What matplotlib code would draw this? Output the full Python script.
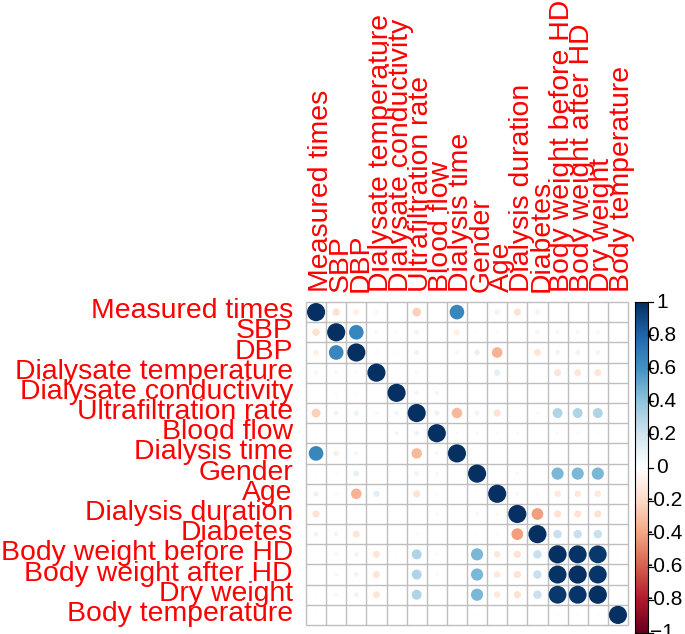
import matplotlib
matplotlib.use("Agg")
import matplotlib.pyplot as plt
import numpy as np
from matplotlib.colors import LinearSegmentedColormap
from matplotlib.patches import Circle
from matplotlib.lines import Line2D

variables = ["Measured times", "SBP", "DBP", "Dialysate temperature",
             "Dialysate conductivity", "Ultrafiltration rate", "Blood flow",
             "Dialysis time", "Gender", "Age", "Dialysis duration", "Diabetes",
             "Body weight before HD", "Body weight after HD", "Dry weight",
             "Body temperature"]

corr = [
    [1.00, -0.17, -0.10, -0.06, -0.01, -0.24, -0.02, 0.65, -0.02, 0.08, -0.16, 0.07, -0.01, 0.01, -0.02, -0.02],
    [-0.17, 1.00, 0.65, 0.04, -0.04, 0.07, -0.01, -0.10, 0.02, -0.04, 0.01, 0.06, 0.05, 0.05, 0.05, 0.01],
    [-0.10, 0.65, 1.00, -0.04, -0.03, 0.08, -0.01, -0.06, 0.10, -0.34, 0.01, -0.15, 0.07, 0.07, 0.07, 0.01],
    [-0.06, 0.04, -0.04, 1.00, -0.02, -0.05, 0.00, 0.01, 0.01, 0.12, 0.01, -0.01, -0.15, -0.15, -0.15, -0.01],
    [-0.01, -0.04, -0.03, -0.02, 1.00, 0.06, 0.06, -0.01, 0.01, 0.01, 0.01, 0.01, 0.01, 0.01, 0.01, 0.01],
    [-0.24, 0.07, 0.08, -0.05, 0.06, 1.00, 0.08, -0.33, 0.07, -0.16, 0.01, 0.03, 0.30, 0.30, 0.30, 0.01],
    [-0.02, -0.01, -0.01, 0.00, 0.06, 0.08, 1.00, 0.04, 0.04, -0.04, 0.03, -0.02, 0.03, 0.03, 0.02, 0.01],
    [0.65, -0.10, -0.06, 0.01, -0.01, -0.33, 0.04, 1.00, 0.01, 0.01, -0.02, 0.01, 0.01, 0.01, 0.01, 0.01],
    [-0.02, 0.02, 0.10, 0.01, 0.01, 0.07, 0.04, 0.01, 1.00, -0.02, -0.05, 0.02, 0.45, 0.45, 0.45, 0.02],
    [0.08, -0.04, -0.34, 0.12, 0.01, -0.16, -0.04, 0.01, -0.02, 1.00, -0.05, 0.03, -0.13, -0.13, -0.13, 0.01],
    [-0.16, 0.01, 0.01, 0.01, 0.01, 0.01, 0.03, -0.02, -0.05, -0.05, 1.00, -0.42, -0.16, -0.16, -0.16, 0.01],
    [0.07, 0.06, -0.15, -0.01, 0.01, 0.03, -0.02, 0.01, 0.02, 0.03, -0.42, 1.00, 0.22, 0.22, 0.22, 0.01],
    [-0.01, 0.05, 0.07, -0.15, 0.01, 0.30, 0.03, 0.01, 0.45, -0.13, -0.16, 0.22, 1.00, 0.98, 0.96, 0.02],
    [0.01, 0.05, 0.07, -0.15, 0.01, 0.30, 0.03, 0.01, 0.45, -0.13, -0.16, 0.22, 0.98, 1.00, 0.97, 0.02],
    [-0.02, 0.05, 0.07, -0.15, 0.01, 0.30, 0.02, 0.01, 0.45, -0.13, -0.16, 0.22, 0.96, 0.97, 1.00, 0.02],
    [-0.02, 0.01, 0.01, -0.01, 0.01, 0.01, 0.01, 0.01, 0.02, 0.01, 0.01, 0.01, 0.02, 0.02, 0.02, 1.00],
]

cbar_ticks = [-1.0, -0.8, -0.6, -0.4, -0.2, 0.0, 0.2, 0.4, 0.6, 0.8, 1.0]
cbar_labels = ["\u22121", "\u22120.8", "\u22120.6", "\u22120.4", "\u22120.2", "0",
               "0.2", "0.4", "0.6", "0.8", "1"]

palette = ["#67001F", "#B2182B", "#D6604D", "#F4A582", "#FDDBC7", "#FFFFFF",
           "#D1E5F0", "#92C5DE", "#4393C3", "#2166AC", "#053061"]
cmap = LinearSegmentedColormap.from_list("corrRdBu", palette, N=200)

plt.rcParams['font.family'] = ['Liberation Sans', 'DejaVu Sans']

W, H = 685, 634
fig = plt.figure(figsize=(W / 100, H / 100), dpi=100)

# main grid axes (pixels: x 306-628, y 302-625)
gx0, gx1, gy0, gy1 = 306, 628, 302, 625
ax = fig.add_axes([gx0 / W, 1 - gy1 / H, (gx1 - gx0) / W, (gy1 - gy0) / H])
n = len(variables)
ax.set_xlim(0, n)
ax.set_ylim(n, 0)
ax.axis('off')

M = np.array(corr)
for i in range(n):
    for j in range(n):
        r = M[i, j]
        rad = 0.9 * np.sqrt(abs(r)) / 2
        if rad > 0:
            ax.add_patch(Circle((j + 0.5, i + 0.5), rad, facecolor=cmap((r + 1) / 2),
                                edgecolor='none', zorder=2))

grid_col = "#BEBEBE"
for k in range(n + 1):
    ax.plot([k, k], [0, n], color=grid_col, lw=1.0, zorder=1, clip_on=False,
            solid_capstyle='butt')
    ax.plot([0, n], [k, k], color=grid_col, lw=1.0, zorder=1, clip_on=False,
            solid_capstyle='butt')

fs = 20.4
for i, name in enumerate(variables):
    ax.text(-0.65, i + 0.8, name, color='red', fontsize=fs, ha='right',
            va='baseline', rotation_mode='anchor', clip_on=False)
    ax.text(i + 1.07, -0.5, name, color='red', fontsize=fs, ha='left',
            va='baseline', rotation=90, rotation_mode='anchor', clip_on=False)

# colour legend (pixels: x 635-648.3, y 302-633)
cx0, cx1, cy0, cy1 = 635, 648.3, 302, 633
cax = fig.add_axes([cx0 / W, 1 - cy1 / H, (cx1 - cx0) / W, (cy1 - cy0) / H])
cax.set_xlim(0, 1)
cax.set_ylim(-1, 1)
grad = np.linspace(-1, 1, 200).reshape(-1, 1)
cax.imshow(grad, cmap=cmap, vmin=-1, vmax=1, origin='lower', aspect='auto',
           extent=[0, 1, -1, 1], zorder=3)
cax.set_xticks([])
cax.set_yticks([])
cax.patch.set_visible(False)
for sp in cax.spines.values():
    sp.set_linewidth(0.8)
    sp.set_color('black')
    sp.set_zorder(4)

bw = cx1 - cx0
for v, lab in zip(cbar_ticks, cbar_labels):
    cax.add_line(Line2D([1, 1 + 4.5 / bw], [v, v], color='black', lw=0.9,
                        clip_on=False, zorder=3))
    cax.text((662 - cx0) / bw, v, lab, fontsize=15, ha='center', va='center',
             color='black', clip_on=False, zorder=1)

fig.savefig("out.png", dpi=100)
